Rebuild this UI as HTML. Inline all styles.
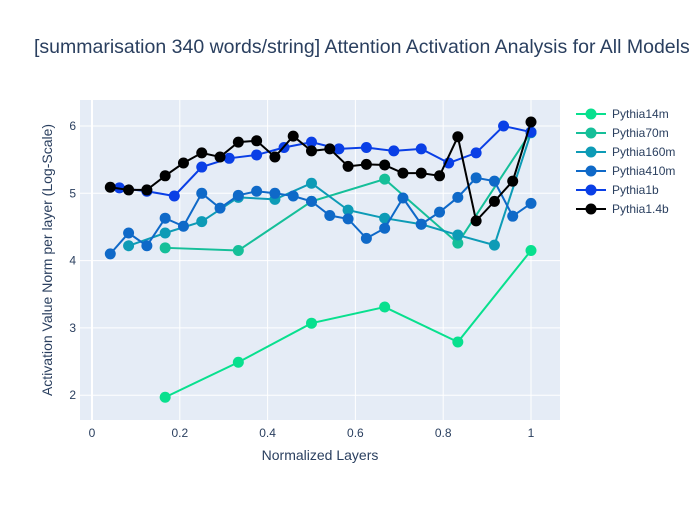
<!DOCTYPE html>
<html><head><meta charset="utf-8"><style>
body{margin:0;background:#fff;font-family:"Liberation Sans",Arial,sans-serif}
svg text{font-family:"Liberation Sans",Arial,sans-serif;fill:#2a3f5f}
</style></head><body>
<svg id="c" width="700" height="500" xmlns="http://www.w3.org/2000/svg">
<rect width="700" height="500" fill="#fff"/>
<text x="34" y="53" font-size="19.5" text-anchor="start">[summarisation 340 words/string] Attention Activation Analysis for All Models</text>
<rect x="80" y="100" width="480" height="320" fill="#e5ecf6"/>
<g id="grid"></g><g id="series"></g><g id="legend"></g>
<text x="320" y="460" font-size="14" text-anchor="middle">Normalized Layers</text>
<text transform="translate(52,260) rotate(-90)" font-size="14" text-anchor="middle">Activation Value Norm per layer (Log-Scale)</text>
</svg>
<script>
const seriesNames=["Pythia14m","Pythia70m","Pythia160m","Pythia410m","Pythia1b","Pythia1.4b"];
const seriesColors=["#08e08e","#15bf99","#0d9bb6","#0f69c8","#0a3fe6","#000000"];
const layers14m=[1/6,2/6,3/6,4/6,5/6,1];
const vals14m=[1.97,2.49,3.07,3.31,2.79,4.15];
const vals70m=[4.19,4.15,4.88,5.21,4.26,5.91];
const layers160m=[1,2,3,4,5,6,7,8,9,10,11,12].map(i=>i/12);
const vals160m=[4.22,4.41,4.58,4.94,4.91,5.15,4.75,4.63,4.54,4.38,4.23,5.9];
const layers24=Array.from({length:24},(_,i)=>(i+1)/24);
const vals410m=[4.10,4.41,4.22,4.63,4.51,5.0,4.78,4.97,5.03,5.0,4.96,4.88,4.67,4.62,4.33,4.48,4.93,4.54,4.72,4.94,5.23,5.18,4.66,4.85];
const layers16=Array.from({length:16},(_,i)=>(i+1)/16);
const vals1b=[5.08,5.03,4.96,5.39,5.52,5.57,5.68,5.76,5.66,5.68,5.63,5.66,5.45,5.60,6.0,5.91];
const vals14b=[5.09,5.05,5.05,5.26,5.45,5.60,5.54,5.76,5.78,5.54,5.85,5.63,5.66,5.40,5.43,5.42,5.30,5.30,5.26,5.84,4.59,4.88,5.18,6.06];
const xTicks=[0,0.2,0.4,0.6,0.8,1];
const xTickLabels=["0","0.2","0.4","0.6","0.8","1"];
const yTicks=[2,3,4,5,6];
const yTickLabels=["2","3","4","5","6"];
const NS="http://www.w3.org/2000/svg";
const xs=v=>92+v*439, ys=v=>126+(6-v)*67.3;
function mk(t,a,p){const e=document.createElementNS(NS,t);for(const k in a)e.setAttribute(k,a[k]);p.appendChild(e);return e;}
const grid=document.getElementById('grid');
xTicks.forEach((t,i)=>{
 const l=mk('line',{x1:xs(t),x2:xs(t),y1:100,y2:420,stroke:'#fff','stroke-width':t===0?2:1},grid);
 
 
 const tx=mk('text',{x:xs(t),y:437,'font-size':12,'text-anchor':'middle'},grid);tx.textContent=xTickLabels[i];
 
 
});
yTicks.forEach((t,i)=>{
 const l=mk('line',{x1:80,x2:560,y1:ys(t),y2:ys(t),stroke:'#fff','stroke-width':1},grid);
 
 
 const tx=mk('text',{x:76,y:ys(t)+4,'font-size':12,'text-anchor':'end'},grid);tx.textContent=yTickLabels[i];
 
 
});
const data=[[layers14m,vals14m],[layers14m,vals70m],[layers160m,vals160m],[layers24,vals410m],[layers16,vals1b],[layers24,vals14b]];
const sg=document.getElementById('series'), lg=document.getElementById('legend');
data.forEach((d,s)=>{
 const g=mk('g',{},sg);
 
 
 const pts=d[0].map((x,i)=>xs(x)+','+ys(d[1][i])).join(' ');
 const pl=mk('polyline',{points:pts,fill:'none',stroke:seriesColors[s],'stroke-width':2},g);
 
 
 d[0].forEach((x,i)=>{
  const c=mk('circle',{cx:xs(x),cy:ys(d[1][i]),r:5.5,fill:seriesColors[s]},g);
  
  
 });
 const y=114+s*19;
 const le=mk('g',{},lg);
 
 
 mk('line',{x1:576,x2:606,y1:y,y2:y,stroke:seriesColors[s],'stroke-width':2},le);
 mk('circle',{cx:591,cy:y,r:5.5,fill:seriesColors[s]},le);
 const t=mk('text',{x:612,y:y+4,'font-size':12},le);t.textContent=seriesNames[s];
});
</script>
</body></html>
